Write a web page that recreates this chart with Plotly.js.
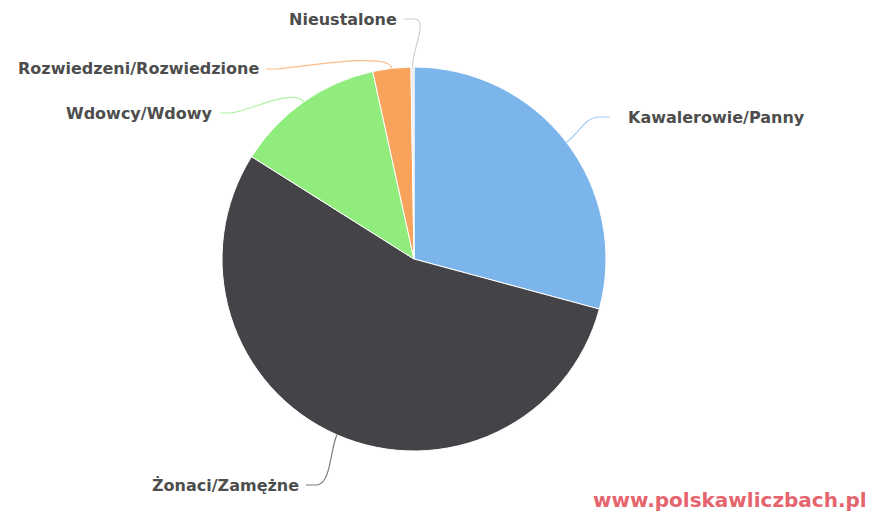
<!DOCTYPE html>
<html>
<head>
<meta charset="utf-8">
<script src="https://cdn.plot.ly/plotly-3.0.1.min.js"></script>
<style>html,body{margin:0;padding:0;background:#fff}#chart{width:879px;height:517px}</style>
</head>
<body>
<div id="chart"></div>
<script>
// ---- data ----
const categories = ["Kawalerowie/Panny", "Żonaci/Zamężne", "Wdowcy/Wdowy", "Rozwiedzeni/Rozwiedzione", "Nieustalone"];
const shares = [29.2, 54.75, 12.6, 3.2, 0.25];
const sliceColors = ["#7cb5ec", "#434348", "#90ed7d", "#f7a35c", "#e8e8ee"];
const watermark = "www.polskawliczbach.pl";

// ---- layout geometry (pixels) ----
const W = 879, H = 517;
const CX = 414, CY = 259, R = 192;
// label anchor points (end of connector) and side
const labelPos = [
  {x: 610, y: 117, side: "left"},
  {x: 306, y: 485, side: "right"},
  {x: 220, y: 113, side: "right"},
  {x: 266, y: 69, side: "right"},
  {x: 404, y: 19, side: "right"}
];

const px = x => x / W;
const py = y => 1 - y / H;

// mid-angles from data
const total = shares.reduce((a, b) => a + b, 0);
let acc = 0;
const shapes = [], annotations = [];
shares.forEach((v, i) => {
  const mid = (acc + v / 2) / total * 2 * Math.PI;
  acc += v;
  const ex = CX + R * Math.sin(mid), ey = CY - R * Math.cos(mid);
  const ox = CX + (R + 18) * Math.sin(mid), oy = CY - (R + 18) * Math.cos(mid);
  const L = labelPos[i];
  const dir = L.side === "left" ? -1 : 1; // direction from label toward pie
  const hx = L.x + dir * 10;
  const path = `M ${px(L.x)} ${py(L.y)} L ${px(hx)} ${py(L.y)} C ${px(hx + dir * 15)} ${py(L.y)} ${px(ox)} ${py(oy)} ${px(ex)} ${py(ey)}`;
  shapes.push({type: "path", xref: "paper", yref: "paper", path: path,
    line: {color: i === 4 ? "#bbbbbb" : sliceColors[i], width: 1.2}, opacity: 0.7});
  annotations.push({
    xref: "paper", yref: "paper",
    x: px(L.x + (L.side === "left" ? 16 : -5)), y: py(L.y),
    xanchor: L.side === "left" ? "left" : "right", yanchor: "middle",
    text: categories[i], showarrow: false,
    font: {family: "DejaVu Sans", size: 16, color: "#4d4d4d", weight: "bold"}
  });
});

annotations.push({
  xref: "paper", yref: "paper", x: px(869), y: py(500),
  xanchor: "right", yanchor: "middle", showarrow: false,
  text: watermark,
  font: {family: "DejaVu Sans", size: 20, color: "#e5656f", weight: "bold"}
});

const trace = {
  type: "pie",
  labels: categories,
  values: shares,
  sort: false,
  direction: "clockwise",
  rotation: 0,
  textinfo: "none",
  hoverinfo: "label+percent",
  marker: {colors: sliceColors, line: {color: "#ffffff", width: 1}},
  domain: {x: [px(CX - R), px(CX + R)], y: [py(CY + R), py(CY - R)]}
};

const layout = {
  width: W, height: H,
  margin: {l: 0, r: 0, t: 0, b: 0},
  paper_bgcolor: "#ffffff",
  showlegend: false,
  shapes: shapes,
  annotations: annotations
};

Plotly.newPlot("chart", [trace], layout, {staticPlot: true});
</script>
</body>
</html>
